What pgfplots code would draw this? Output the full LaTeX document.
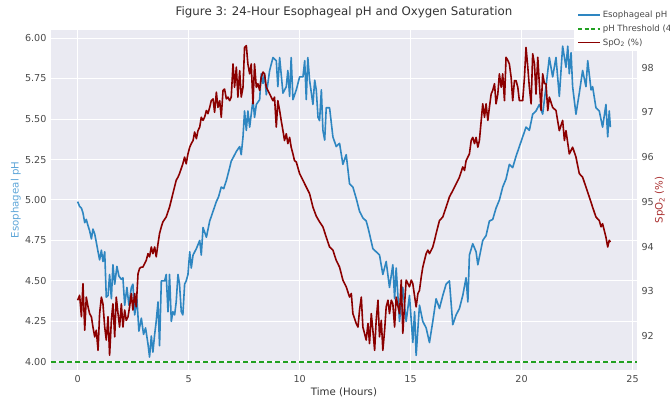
\documentclass[border=0pt]{standalone}
\usepackage{pgfplots}
\pgfplotsset{compat=1.18}
\usepackage{fontspec}
\setmainfont{DejaVu Sans}
\definecolor{bgc}{HTML}{EAEAF2}
\definecolor{phc}{HTML}{2E86C1}
\definecolor{spc}{HTML}{8B0000}
\definecolor{thc}{HTML}{22A022}
\definecolor{tickc}{HTML}{4A4A4A}
\definecolor{txtc}{HTML}{333333}
\definecolor{phlab}{HTML}{5DA5D8}
\definecolor{splab}{HTML}{A93030}
\begin{document}
\begin{tikzpicture}
\pgfplotsset{
  base/.style={width=586pt, height=340pt, scale only axis,
    xmin=-1.2, xmax=25.2,
    major tick length=0pt, tick style={draw=none},
    axis line style={draw=none},
    /pgf/number format/assume math mode=true,
    tick label style={font=\fontsize{9.6}{11}\selectfont, text=tickc},
    label style={font=\fontsize{10.2}{12}\selectfont},
  }
}
\begin{axis}[base, name=ax,
  ymin=3.95, ymax=6.05,
  axis background/.style={fill=bgc},
  grid=major, grid style={white, line width=1pt},
  xtick={0,5,10,15,20,25},
  ytick={4,4.25,4.5,4.75,5,5.25,5.5,5.75,6},
  yticklabel style={/pgf/number format/fixed, /pgf/number format/fixed zerofill, /pgf/number format/precision=2, anchor=east, xshift=-1pt},
  xticklabel style={anchor=north, yshift=-2pt},
  xlabel={Time (Hours)},
  xlabel style={at={(axis description cs:0.5,-0.065)}, anchor=center, text=txtc},
  ylabel={Esophageal pH},
  ylabel style={at={(axis description cs:-0.06,0.5)}, anchor=center, text=phlab},
  title={Figure 3: 24-Hour Esophageal pH and Oxygen Saturation},
  title style={at={(axis description cs:0.5,1.035)}, anchor=center, font=\fontsize{11.8}{14}\selectfont, text=txtc},
]
\addplot[thc, line width=1.5pt, dash pattern=on 5pt off 3pt] coordinates {(-1.2,4) (25.2,4)};
\addplot[phc, line width=1.6pt, line join=round] table {
0.00 4.99
0.09 4.96
0.17 4.95
0.24 4.92
0.32 4.86
0.39 4.88
0.47 4.84
0.54 4.81
0.62 4.76
0.69 4.82
0.77 4.79
0.84 4.74
0.92 4.68
0.99 4.63
1.07 4.69
1.14 4.62
1.22 4.68
1.29 4.40
1.37 4.41
1.44 4.54
1.52 4.39
1.59 4.60
1.67 4.48
1.77 4.59
1.86 4.53
1.97 4.51
2.04 4.52
2.12 4.35
2.22 4.46
2.31 4.35
2.42 4.46
2.49 4.48
2.57 4.29
2.67 4.39
2.76 4.19
2.87 4.27
2.97 4.17
3.06 4.21
3.17 4.11
3.24 4.03
3.32 4.16
3.39 4.06
3.47 4.17
3.54 4.25
3.62 4.37
3.69 4.10
3.77 4.50
3.92 4.50
3.99 4.54
4.07 4.31
4.14 4.54
4.22 4.25
4.29 4.31
4.37 4.29
4.44 4.37
4.52 4.54
4.59 4.48
4.67 4.31
4.74 4.29
4.82 4.48
4.89 4.50
4.97 4.54
5.05 4.68
5.12 4.58
5.20 4.66
5.35 4.70
5.50 4.75
5.57 4.66
5.65 4.83
5.80 4.77
5.95 4.87
6.10 4.93
6.25 4.99
6.35 5.02
6.47 5.08
6.58 5.07
6.70 5.12
6.85 5.20
6.92 5.24
7.00 5.26
7.15 5.30
7.30 5.33
7.37 5.28
7.45 5.39
7.52 5.55
7.60 5.43
7.67 5.55
7.75 5.45
7.90 5.62
7.97 5.51
8.05 5.59
8.20 5.62
8.27 5.78
8.35 5.72
8.42 5.78
8.50 5.65
8.65 5.80
8.80 5.88
8.95 5.86
9.02 5.70
9.10 5.88
9.25 5.66
9.40 5.70
9.47 5.80
9.55 5.64
9.62 5.88
9.70 5.62
9.85 5.68
10.00 5.76
10.15 5.76
10.23 5.86
10.30 5.62
10.37 5.88
10.45 5.74
10.60 5.59
10.68 5.74
10.75 5.68
10.83 5.51
10.90 5.49
10.98 5.68
11.05 5.43
11.13 5.37
11.20 5.57
11.35 5.57
11.50 5.39
11.65 5.33
11.80 5.35
11.95 5.22
12.10 5.28
12.25 5.10
12.40 5.08
12.55 5.01
12.70 4.93
12.85 4.89
13.00 4.87
13.08 4.83
13.15 4.79
13.30 4.70
13.45 4.68
13.60 4.66
13.75 4.54
13.90 4.62
14.05 4.46
14.20 4.60
14.28 4.39
14.35 4.58
14.50 4.25
14.65 4.46
14.80 4.25
14.95 4.41
15.10 4.12
15.18 4.31
15.25 4.04
15.40 4.35
15.55 4.25
15.70 4.21
15.85 4.12
16.00 4.25
16.15 4.39
16.30 4.33
16.45 4.41
16.60 4.48
16.75 4.50
16.90 4.23
17.05 4.29
17.20 4.33
17.35 4.41
17.50 4.52
17.58 4.37
17.65 4.66
17.80 4.73
17.95 4.68
18.03 4.60
18.25 4.75
18.40 4.78
18.55 4.87
18.70 4.88
18.85 4.95
19.00 5.00
19.15 5.08
19.30 5.13
19.45 5.22
19.60 5.20
19.75 5.27
19.90 5.33
20.05 5.39
20.20 5.45
20.35 5.43
20.50 5.53
20.65 5.55
20.80 5.59
20.95 5.53
21.10 5.70
21.25 5.88
21.40 5.76
21.55 5.88
21.70 5.64
21.85 5.95
22.00 5.82
22.08 5.95
22.15 5.78
22.23 5.91
22.30 5.70
22.45 5.53
22.60 5.66
22.75 5.80
22.90 5.70
22.98 5.86
23.13 5.68
23.20 5.70
23.35 5.57
23.50 5.55
23.65 5.45
23.80 5.59
23.88 5.39
23.95 5.55
24.00 5.45
};
\end{axis}
\begin{axis}[base,
  ymin=91.24, ymax=98.84,
  axis x line=none, axis y line*=right,
  ytick={92,93,94,95,96,97,98},
  yticklabel style={anchor=west, xshift=1pt},
  ylabel={SpO\textsubscript{2} (\%)},
  ylabel style={at={(axis description cs:1.039,0.5)}, anchor=center, text=splab},
  legend style={at={(0.8925,1.07)}, anchor=north west, draw=none, fill=white,
    font=\fontsize{8.6}{10}\selectfont, text=tickc, row sep=1.8pt, inner xsep=3pt, inner ysep=2.5pt},
  legend cell align=left,
  legend image code/.code={\draw[line width=1.6pt,#1] (0pt,0pt) -- (22pt,0pt);},
]
\addlegendimage{phc, line width=1.6pt}
\addlegendentry{Esophageal pH}
\addlegendimage{thc, line width=1.5pt, dash pattern=on 4pt off 2.5pt}
\addlegendentry{pH Threshold (4.0)}
\addplot[spc, line width=1.6pt, line join=round] table {
0.00 92.80
0.09 92.91
0.17 92.43
0.24 93.17
0.32 92.13
0.39 92.87
0.47 92.65
0.54 92.50
0.62 92.43
0.69 92.20
0.77 91.98
0.84 92.13
0.92 91.68
0.99 92.50
1.07 92.87
1.14 92.72
1.22 92.20
1.29 91.91
1.37 92.43
1.44 91.57
1.52 92.35
1.59 92.72
1.67 91.98
1.74 92.87
1.82 92.50
1.89 92.20
1.97 92.72
2.04 92.20
2.12 92.58
2.19 92.35
2.27 92.43
2.34 92.65
2.42 92.95
2.49 92.58
2.57 92.95
2.64 92.65
2.72 93.39
2.79 93.51
2.87 93.54
2.94 93.54
3.02 93.62
3.09 93.69
3.17 93.84
3.24 93.77
3.32 93.99
3.39 93.84
3.47 93.99
3.54 93.77
3.62 94.06
3.69 94.29
3.77 94.44
3.84 94.55
3.99 94.66
4.14 94.88
4.29 95.18
4.44 95.48
4.52 95.55
4.59 95.63
4.74 95.85
4.82 96.00
4.89 95.85
4.97 96.07
5.05 96.22
5.12 96.30
5.20 96.37
5.27 96.56
5.35 96.41
5.42 96.59
5.50 96.67
5.57 96.89
5.65 96.82
5.72 96.89
5.80 97.04
5.87 96.97
5.95 97.11
6.02 97.26
6.10 97.30
6.17 97.00
6.25 97.45
6.32 97.11
6.40 97.26
6.47 96.89
6.55 97.49
6.62 97.52
6.70 97.30
6.77 97.34
6.85 97.26
6.92 97.34
7.00 98.08
7.07 97.56
7.15 98.01
7.22 97.34
7.30 97.93
7.37 97.34
7.45 97.56
7.52 98.45
7.60 98.49
7.67 98.08
7.75 97.86
7.82 98.08
7.90 97.19
7.97 98.08
8.05 97.56
8.12 97.64
8.20 97.49
8.27 97.78
8.35 97.90
8.42 97.86
8.50 97.56
8.57 97.49
8.65 97.41
8.72 97.34
8.80 97.26
8.87 97.34
8.95 96.67
9.02 97.26
9.10 97.04
9.17 96.82
9.25 96.59
9.32 96.37
9.40 96.52
9.47 96.30
9.55 96.44
9.62 96.22
9.70 96.07
9.77 95.92
9.85 95.89
10.00 95.63
10.15 95.48
10.30 95.33
10.45 95.18
10.60 94.88
10.75 94.68
10.90 94.55
11.05 94.44
11.20 94.21
11.35 93.99
11.50 93.92
11.65 93.69
11.80 93.54
11.95 93.25
12.10 93.10
12.25 92.87
12.33 92.95
12.40 92.50
12.55 92.28
12.63 92.20
12.70 92.58
12.78 92.87
12.85 92.20
13.00 91.91
13.08 92.28
13.15 91.83
13.23 92.50
13.30 92.13
13.38 91.68
13.45 92.35
13.53 92.80
13.60 91.98
13.68 92.35
13.75 91.68
13.83 92.13
13.90 92.65
13.98 92.80
14.05 92.50
14.13 92.80
14.20 92.72
14.28 92.20
14.35 92.87
14.50 92.50
14.58 93.25
14.65 92.06
14.73 92.72
14.80 93.25
14.95 93.10
15.03 93.25
15.10 93.17
15.25 92.65
15.33 92.95
15.40 93.02
15.48 93.32
15.55 93.54
15.70 93.84
15.78 93.92
15.85 93.84
16.00 93.99
16.08 94.14
16.15 94.29
16.30 94.58
16.45 94.66
16.60 94.88
16.75 95.11
16.90 95.25
17.05 95.40
17.20 95.55
17.35 95.78
17.43 95.70
17.50 95.92
17.65 96.07
17.73 96.37
17.80 96.44
17.88 96.30
17.95 96.44
18.03 96.22
18.10 96.37
18.25 97.19
18.33 96.89
18.40 97.19
18.48 96.82
18.55 97.11
18.63 97.41
18.70 97.49
18.78 97.64
18.85 97.19
18.93 97.41
19.00 97.86
19.08 97.56
19.15 97.86
19.23 97.26
19.30 98.23
19.38 98.16
19.45 98.08
19.53 97.78
19.60 97.26
19.68 97.71
19.75 97.71
19.83 97.56
19.90 97.26
19.98 97.26
20.05 97.26
20.13 97.78
20.20 98.45
20.28 98.01
20.35 97.56
20.43 97.19
20.50 98.31
20.58 98.08
20.65 97.41
20.73 98.23
20.80 97.64
20.88 97.04
20.95 97.86
21.03 97.64
21.10 97.64
21.18 97.04
21.25 97.34
21.40 97.11
21.55 97.04
21.70 96.59
21.85 96.82
21.93 96.37
22.00 96.59
22.15 96.07
22.30 96.22
22.45 96.00
22.60 95.63
22.75 95.55
22.90 95.33
23.05 95.11
23.20 94.88
23.35 94.66
23.50 94.58
23.58 94.44
23.65 94.51
23.80 94.21
23.88 93.99
23.95 94.14
24.00 94.10
};
\addlegendentry{SpO\textsubscript{2} (\%)}
\end{axis}
\pgfresetboundingbox
\path[use as bounding box] ([xshift=-51pt,yshift=-28pt]ax.south west) rectangle ([xshift=33pt,yshift=30pt]ax.north east);
\end{tikzpicture}
\end{document}
